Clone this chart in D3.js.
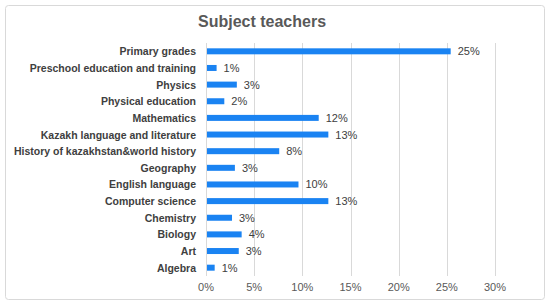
<!DOCTYPE html>
<html lang="en">
<head>
  <meta charset="utf-8">
  <title>Subject teachers</title>
  <script src="https://d3js.org/d3.v7.min.js"></script>
  <style>
    body { margin: 0; background: #fff; }
    text { font-family: "Liberation Sans", Arial, sans-serif; }
  </style>
</head>
<body>
<script>
// categories, top to bottom
var subjects = [
  'Primary grades', 'Preschool education and training', 'Physics',
  'Physical education', 'Mathematics', 'Kazakh language and literature',
  'History of kazakhstan&world history', 'Geography', 'English language',
  'Computer science', 'Chemistry', 'Biology', 'Art', 'Algebra'
];
// share of teachers, in percent
var shares = [25.4, 1.1, 3.2, 1.9, 11.7, 12.7, 7.6, 3.0, 9.6, 12.7, 2.7, 3.7, 3.4, 0.9];
var ticks = [0, 5, 10, 15, 20, 25, 30];

var w = 550, h = 306;
// plot area (note: "top" is reserved on window, so use plotTop)
var plotLeft = 206, plotRight = 495, plotTop = 43, plotBottom = 276;

var svg = d3.select('body').append('svg')
  .attr('width', w)
  .attr('height', h);

// outer frame
svg.append('rect')
  .attr('x', 5.5).attr('y', 5.5)
  .attr('width', 539).attr('height', 294)
  .attr('rx', 3)
  .attr('fill', '#fff')
  .attr('stroke', '#d9d9d9');

svg.append('text')
  .attr('x', 262).attr('y', 27)
  .attr('text-anchor', 'middle')
  .attr('font-size', 16)
  .attr('font-weight', 'bold')
  .attr('fill', '#595959')
  .text('Subject teachers');

var x = d3.scaleLinear().domain([0, 30]).range([plotLeft, plotRight]);
var y = d3.scaleBand().domain(subjects).range([plotTop, plotBottom]);

// gridlines
svg.selectAll('line.grid')
  .data(ticks)
  .enter().append('line')
  .attr('class', 'grid')
  .attr('x1', function(d) { return Math.round(x(d)) + 0.5; })
  .attr('x2', function(d) { return Math.round(x(d)) + 0.5; })
  .attr('y1', plotTop)
  .attr('y2', plotBottom)
  .attr('stroke', '#d9d9d9');

// x axis labels
svg.selectAll('text.tick')
  .data(ticks)
  .enter().append('text')
  .attr('class', 'tick')
  .attr('x', function(d) { return x(d); })
  .attr('y', 291)
  .attr('text-anchor', 'middle')
  .attr('font-size', 11)
  .attr('fill', '#595959')
  .text(function(d) { return d + '%'; });

var rows = subjects.map(function(s, i) { return { name: s, v: shares[i] }; });

svg.selectAll('rect.bar')
  .data(rows)
  .enter().append('rect')
  .attr('class', 'bar')
  .attr('x', x(0) + 1)
  .attr('y', function(d) { return y(d.name) + y.bandwidth() / 2 - 3; })
  .attr('width', function(d) { return x(d.v) - x(0) - 1; })
  .attr('height', 6)
  .attr('fill', '#1a83f2');

// category labels
svg.selectAll('text.cat')
  .data(rows)
  .enter().append('text')
  .attr('class', 'cat')
  .attr('x', 196)
  .attr('y', function(d) { return y(d.name) + y.bandwidth() / 2 + 4; })
  .attr('text-anchor', 'end')
  .attr('font-size', 10.5)
  .attr('font-weight', 'bold')
  .attr('fill', '#404040')
  .text(function(d) { return d.name; });

// value labels
svg.selectAll('text.val')
  .data(rows)
  .enter().append('text')
  .attr('class', 'val')
  .attr('x', function(d) { return x(d.v) + 7; })
  .attr('y', function(d) { return y(d.name) + y.bandwidth() / 2 + 4; })
  .attr('font-size', 11)
  .attr('fill', '#404040')
  .text(function(d) { return Math.round(d.v) + '%'; });
</script>
</body>
</html>
